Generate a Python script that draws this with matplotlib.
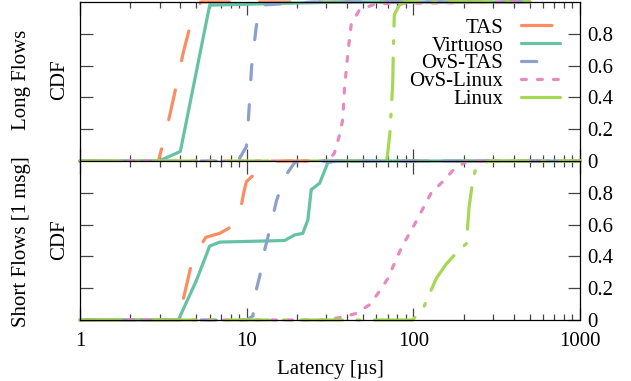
import matplotlib
matplotlib.use("Agg")
import matplotlib.pyplot as plt

plt.rcParams['font.family'] = ['Liberation Serif', 'DejaVu Serif']
plt.rcParams['font.size'] = 15
plt.rcParams['lines.scale_dashes'] = False

names = ["TAS", "Virtuoso", "OvS-TAS", "OvS-Linux", "Linux"]
colors = ["#fc8d62", "#66c2a5", "#8da0cb", "#e78ac3", "#a6d854"]
# dash patterns in points
styles = [(0, (22, 21.5)), "-", (0, (11, 18)), (0, (3.5, 8)), (0, (30, 10.5, 2, 10.5))]

# long flows, latency in us and CDF
long_x = [
    [1, 2.95, 3.15, 3.46, 3.83, 4.16, 4.67, 5.3, 500],
    [1, 2.98, 4.0, 6.0, 14, 40, 500],
    [1, 8.87, 9.96, 10.2, 10.7, 11.4, 12.0, 25, 500],
    [1, 31, 33.6, 36, 37.7, 38.6, 40.4, 42.4, 47.5, 60, 500],
    [1, 69, 70.2, 72.4, 75.2, 75.9, 76.9, 82.4, 90, 500],
]
long_y = [
    [0, 0, 0.11, 0.29, 0.5, 0.68, 0.883, 1, 1],
    [0, 0, 0.06, 0.98, 0.99, 1, 1],
    [0, 0, 0.09, 0.23, 0.59, 0.84, 0.98, 1, 1],
    [0, 0, 0.05, 0.16, 0.26, 0.45, 0.67, 0.86, 0.95, 0.99, 1],
    [0, 0, 0.05, 0.18, 0.48, 0.7, 0.92, 0.98, 1, 1],
]

# short flows [1 msg]
short_x = [
    [1, 3.9, 4.25, 4.73, 5.68, 6.89, 8.87, 9.6, 9.96, 12, 14.5, 1000],
    [1, 3.9, 3.97, 5.0, 6.0, 6.9, 16.9, 19.4, 21.7, 23.3, 24.4, 27.4, 30.7, 34.6, 1000],
    [1, 9.96, 10.9, 11.3, 12, 12.6, 13.4, 15.1, 16.9, 19.4, 21, 1000],
    [1, 30, 36, 45, 54.5, 62.6, 70.2, 84.4, 104, 128, 150, 176, 211, 1000],
    [1, 99, 116, 137, 157, 188, 208, 216, 224, 235, 260, 290, 1000],
]
short_y = [
    [0, 0, 0.17, 0.38, 0.52, 0.545, 0.61, 0.80, 0.87, 0.95, 1, 1],
    [0, 0, 0.02, 0.25, 0.465, 0.49, 0.5, 0.535, 0.545, 0.63, 0.82, 0.86, 0.99, 1, 1],
    [0, 0, 0.025, 0.17, 0.28, 0.41, 0.52, 0.75, 0.9, 0.99, 1, 1],
    [0, 0, 0.015, 0.04, 0.095, 0.18, 0.26, 0.45, 0.62, 0.80, 0.87, 0.95, 1, 1],
    [0, 0, 0.085, 0.26, 0.35, 0.44, 0.48, 0.71, 0.83, 0.94, 0.99, 1, 1],
]

yticks = [0, 0.2, 0.4, 0.6, 0.8]

fig = plt.figure(figsize=(6.31, 3.81), dpi=100)
gs = fig.add_gridspec(2, 1, left=80/631, right=580/631, top=1-2/381, bottom=1-320/381, hspace=0)
ax1 = fig.add_subplot(gs[0])
ax2 = fig.add_subplot(gs[1])

for ax, xs, ys in [(ax1, long_x, long_y), (ax2, short_x, short_y)]:
    for i in range(5):
        ax.plot(xs[i], ys[i], color=colors[i], linestyle=styles[i], lw=2.3,
                dash_capstyle='round', solid_capstyle='round', clip_on=False,
                label=names[i])
    ax.set_xscale('log')
    ax.set_xlim(1, 1000)
    ax.set_ylim(0, 1)
    ax.set_yticks(yticks)
    ax.set_yticklabels(["0", "0.2", "0.4", "0.6", "0.8"])
    ax.yaxis.tick_right()
    ax.tick_params(axis='both', which='both', direction='in', top=True, bottom=True,
                   left=True, right=True, labelleft=False, labelright=True,
                   color='#444444', width=0.9)
    ax.tick_params(axis='both', which='major', length=9, pad=5)
    ax.tick_params(axis='x', which='minor', length=4.5)
    for s in ax.spines.values():
        s.set_linewidth(0.9)

ax1.tick_params(axis='x', which='both', labelbottom=False)
ax2.set_xticks([1, 10, 100, 1000])
ax2.set_xticklabels(["1", "10", "100", "1000"])
ax2.tick_params(axis='x', which='major', pad=9)
ax2.set_xlabel("Latency [µs]", labelpad=6)

fig.text(22/631, 1-80/381, "Long Flows", rotation=90, ha='center', va='center')
fig.text(60/631, 1-80/381, "CDF", rotation=90, ha='center', va='center')
fig.text(22/631, 1-242/381, "Short Flows [1 msg]", rotation=90, ha='center', va='center')
fig.text(60/631, 1-240/381, "CDF", rotation=90, ha='center', va='center')

ax1.legend(loc='upper right', bbox_to_anchor=(560/631, 1-18/381), bbox_transform=fig.transFigure,
           frameon=False, markerfirst=False, borderpad=0, borderaxespad=0,
           handlelength=1.875, handletextpad=0.85, labelspacing=-0.08)

fig.savefig("out.png", dpi=100)
